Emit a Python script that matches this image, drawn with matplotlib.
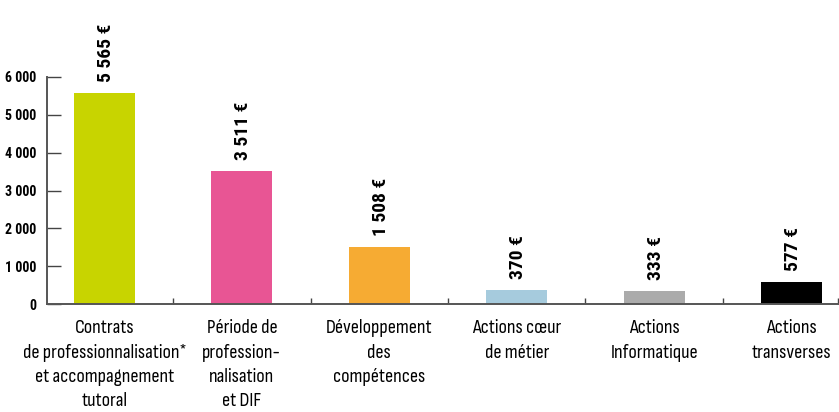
import matplotlib
matplotlib.use("Agg")
import matplotlib.pyplot as plt
import numpy as np

CATEGORIES = [
    "Contrats\nde professionnalisation*\net accompagnement\ntutoral",
    "Période de\nprofession-\nnalisation\net DIF",
    "Développement\ndes\ncompétences",
    "Actions cœur\nde métier",
    "Actions\nInformatique",
    "Actions\ntransverses",
]
VALUES = [5565, 3511, 1508, 370, 333, 577]
VALUE_LABELS = ["5 565 €", "3 511 €", "1 508 €", "370 €", "333 €", "577 €"]
COLORS = ["#C8D400", "#E85594", "#F6AB33", "#A6CBDD", "#ABABAB", "#000000"]
Y_TICKS = [0, 1000, 2000, 3000, 4000, 5000, 6000]
Y_TICK_LABELS = ["0", "1 000", "2 000", "3 000", "4 000", "5 000", "6 000"]

BOLD_FONT = ["Roboto Condensed", "DejaVu Sans"]
LABEL_FONT = ["Sofia Sans Condensed", "Roboto Condensed", "DejaVu Sans"]
plt.rcParams["font.family"] = BOLD_FONT

fig = plt.figure(figsize=(8.39, 4.12), dpi=100)
ax = fig.add_axes([47 / 839, 108 / 412, 791 / 839, 227 / 412])

x = np.arange(len(VALUES))
bars = ax.bar(x, VALUES, width=0.444, color=COLORS)

for rect, lab in zip(bars, VALUE_LABELS):
    ax.annotate(lab, (rect.get_x() + rect.get_width() / 2, rect.get_height()),
                xytext=(1, 8), textcoords="offset points", rotation=90,
                ha="center", va="bottom", fontsize=14, fontweight="bold",
                clip_on=False)

x_left, x_right = -0.418, len(VALUES) - 1 + 0.338
ax.set_xlim(x_left, x_right)
ax.set_ylim(0, 6000)

ax.set_xticks(x)
ax.set_xticklabels(CATEGORIES, fontsize=14.5, fontweight="light", family=LABEL_FONT,
                   linespacing=1.45, va="top")
ax.tick_params(axis="x", which="major", length=0, pad=11)
ax.set_xticks(list(x[:-1] + 0.5) + [x_right], minor=True)
ax.tick_params(axis="x", which="minor", direction="in", length=4, width=1, color="#444444")

ax.set_yticks(Y_TICKS)
ax.set_yticklabels(Y_TICK_LABELS, fontsize=10, fontweight="bold")
ax.tick_params(axis="y", direction="in", length=10, width=1, color="#444444", pad=8)

for side in ("top", "right"):
    ax.spines[side].set_visible(False)
for side in ("left", "bottom"):
    ax.spines[side].set_color("#555555")
    ax.spines[side].set_linewidth(1.4)

fig.savefig("out.png", dpi=100)
